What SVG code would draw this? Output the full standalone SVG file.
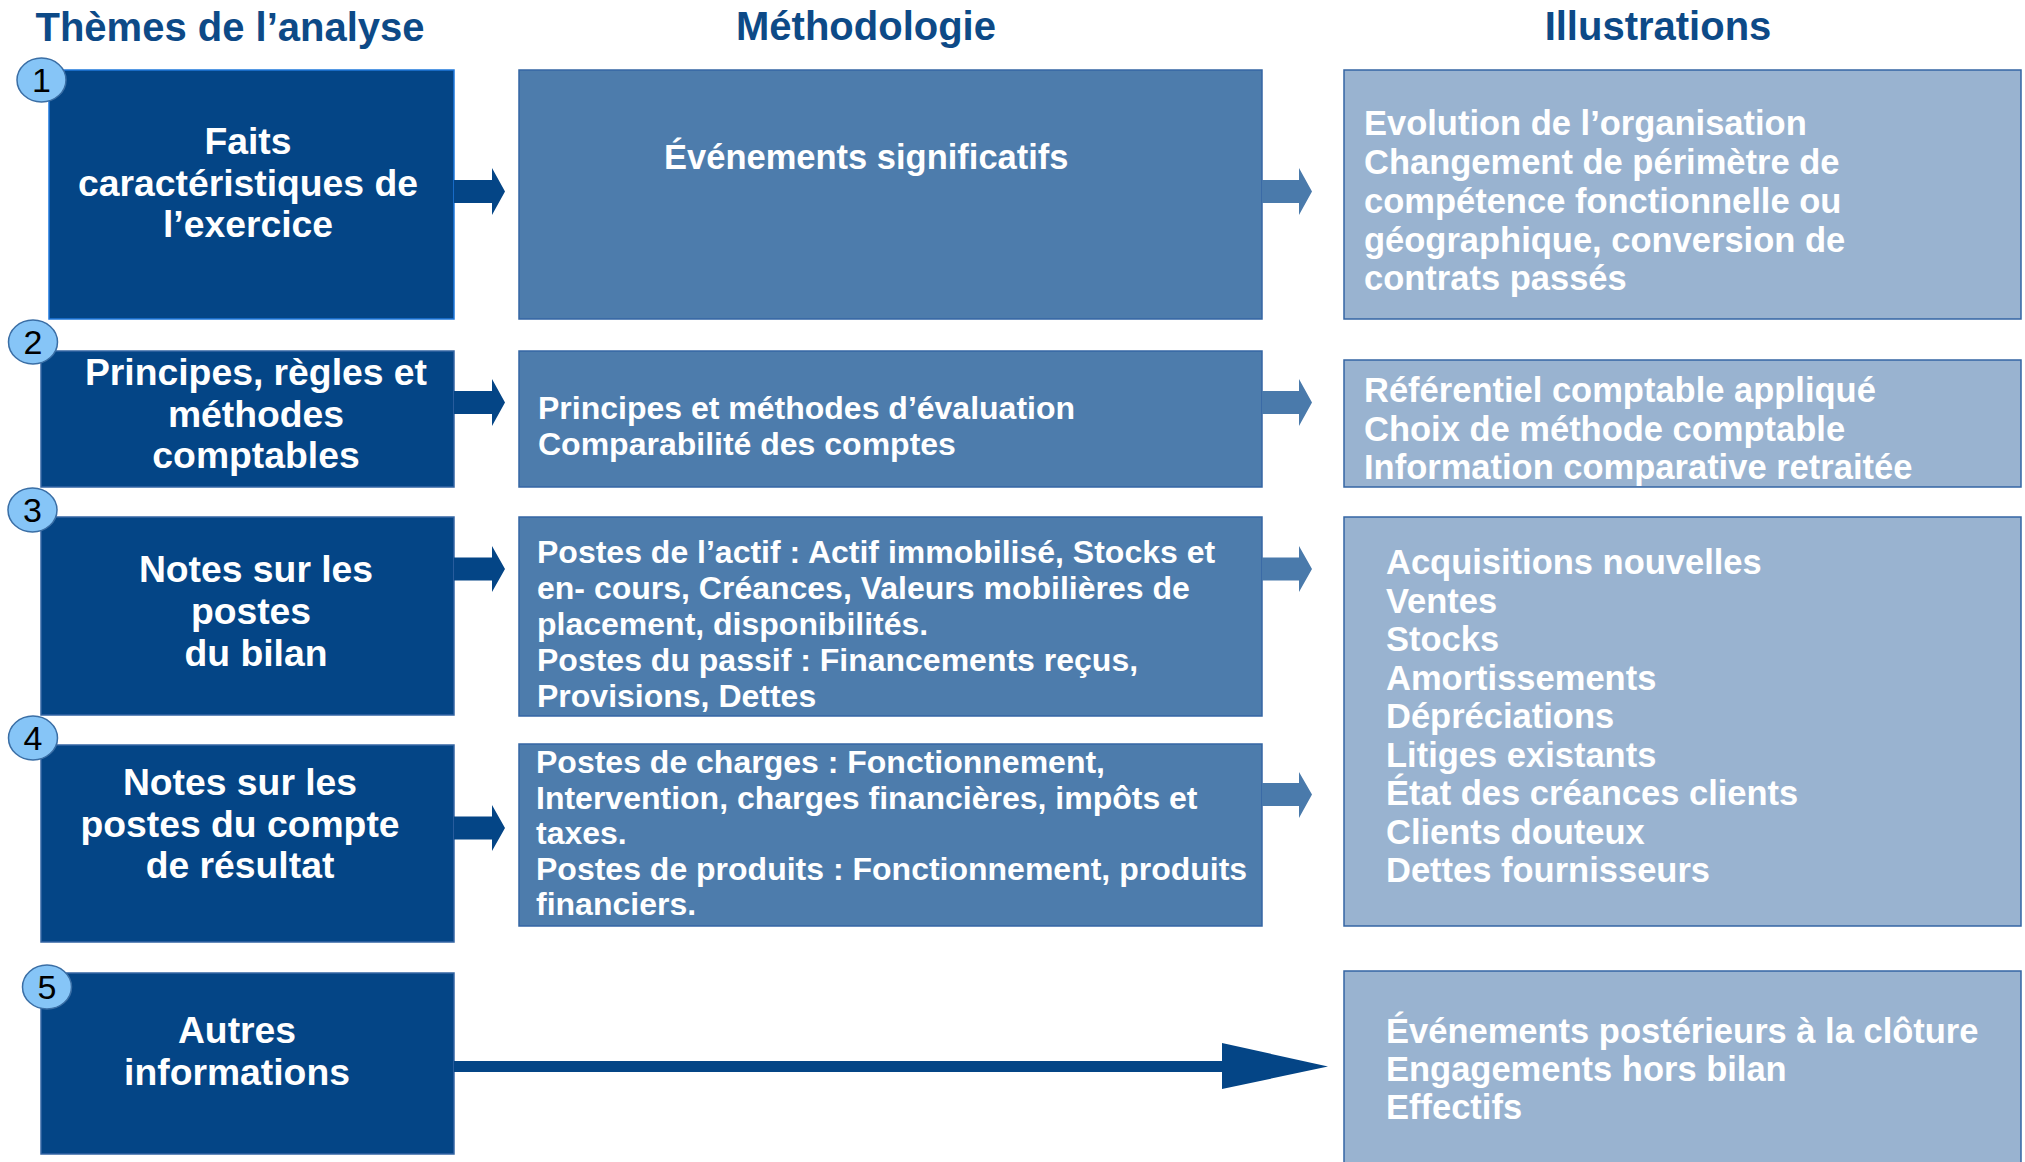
<svg xmlns="http://www.w3.org/2000/svg" width="2025" height="1162" viewBox="0 0 2025 1162">
<defs>
<style>
.hdr{font-family:"Liberation Sans",Arial,sans-serif;font-weight:bold;font-size:40px;fill:#0d4a87;text-anchor:middle}
.lbox{fill:#044586;stroke:#3465a4;stroke-width:1.5}
.mbox{fill:#4d7cac;stroke:#3465a4;stroke-width:1.5}
.rbox{fill:#99b3d0;stroke:#3465a4;stroke-width:1.5}
.ltxt{font-family:"Liberation Sans",Arial,sans-serif;font-weight:bold;font-size:37.3px;fill:#ffffff;text-anchor:middle}
.mtxt{font-family:"Liberation Sans",Arial,sans-serif;font-weight:bold;font-size:32px;fill:#ffffff}
.rtxt{font-family:"Liberation Sans",Arial,sans-serif;font-weight:bold;font-size:34.5px;fill:#ffffff}
.circ{fill:#86c5f7;stroke:#3a6ea5;stroke-width:1.5}
.num{font-family:"Liberation Sans",Arial,sans-serif;font-size:34px;fill:#000000;text-anchor:middle}
.arrL{fill:#044586}
.arrM{fill:#4a7aab}
</style>
</defs>
<rect width="2025" height="1162" fill="#ffffff"/>

<g id="headers">
<text class="hdr" x="230" y="41">Thèmes de l’analyse</text>
<text class="hdr" x="866" y="40">Méthodologie</text>
<text class="hdr" x="1658" y="40">Illustrations</text>
</g>

<g id="theme1">
<rect class="lbox" x="49" y="70" width="405" height="249" style="stroke:#1f78dc"/>
<text class="ltxt" x="248" y="154">Faits</text>
<text class="ltxt" x="248" y="195.5">caractéristiques de</text>
<text class="ltxt" x="248" y="237">l’exercice</text>
</g>
<g id="theme2">
<rect class="lbox" x="41" y="351" width="413" height="136"/>
<text class="ltxt" x="256" y="385">Principes, règles et</text>
<text class="ltxt" x="256" y="427">méthodes</text>
<text class="ltxt" x="256" y="468">comptables</text>
</g>
<g id="theme3">
<rect class="lbox" x="41" y="517" width="413" height="198"/>
<text class="ltxt" x="256" y="582">Notes sur les</text>
<text class="ltxt" x="251" y="624">postes</text>
<text class="ltxt" x="256" y="666">du bilan</text>
</g>
<g id="theme4">
<rect class="lbox" x="41" y="745" width="413" height="197"/>
<text class="ltxt" x="240" y="795">Notes sur les</text>
<text class="ltxt" x="240" y="836.5">postes du compte</text>
<text class="ltxt" x="240" y="878">de résultat</text>
</g>
<g id="theme5">
<rect class="lbox" x="41" y="973" width="413" height="181"/>
<text class="ltxt" x="237" y="1043">Autres</text>
<text class="ltxt" x="237" y="1085">informations</text>
</g>

<g id="badges">
<g id="badge1"><ellipse class="circ" cx="41.5" cy="80" rx="24.5" ry="22"/><text class="num" x="41.5" y="92">1</text></g>
<g id="badge2"><ellipse class="circ" cx="33" cy="342" rx="24.5" ry="22"/><text class="num" x="33" y="354">2</text></g>
<g id="badge3"><ellipse class="circ" cx="32.5" cy="510" rx="24.5" ry="22"/><text class="num" x="32.5" y="522">3</text></g>
<g id="badge4"><ellipse class="circ" cx="33" cy="738" rx="24.5" ry="22"/><text class="num" x="33" y="750">4</text></g>
<g id="badge5"><ellipse class="circ" cx="47" cy="987" rx="24.5" ry="22"/><text class="num" x="47" y="999">5</text></g>
</g>

<g id="method1">
<rect class="mbox" x="519" y="70" width="743" height="249"/>
<text class="rtxt" x="664" y="169">Événements significatifs</text>
</g>
<g id="method2">
<rect class="mbox" x="519" y="351" width="743" height="136"/>
<text class="mtxt" x="538" y="419">Principes et méthodes d’évaluation</text>
<text class="mtxt" x="538" y="455">Comparabilité des comptes</text>
</g>
<g id="method3">
<rect class="mbox" x="519" y="517" width="743" height="199"/>
<text class="mtxt" x="537" y="563">Postes de l’actif : Actif immobilisé, Stocks et</text>
<text class="mtxt" x="537" y="599">en- cours, Créances, Valeurs mobilières de</text>
<text class="mtxt" x="537" y="635">placement, disponibilités.</text>
<text class="mtxt" x="537" y="671">Postes du passif : Financements reçus,</text>
<text class="mtxt" x="537" y="707">Provisions, Dettes</text>
</g>
<g id="method4">
<rect class="mbox" x="519" y="744" width="743" height="182"/>
<text class="mtxt" x="536" y="773">Postes de charges : Fonctionnement,</text>
<text class="mtxt" x="536" y="808.5">Intervention, charges financières, impôts et</text>
<text class="mtxt" x="536" y="844">taxes.</text>
<text class="mtxt" x="536" y="879.5">Postes de produits : Fonctionnement, produits</text>
<text class="mtxt" x="536" y="915">financiers.</text>
</g>

<g id="illus1">
<rect class="rbox" x="1344" y="70" width="677" height="249"/>
<text class="rtxt" x="1364" y="135">Evolution de l’organisation</text>
<text class="rtxt" x="1364" y="174">Changement de périmètre de</text>
<text class="rtxt" x="1364" y="213">compétence fonctionnelle ou</text>
<text class="rtxt" x="1364" y="252">géographique, conversion de</text>
<text class="rtxt" x="1364" y="290">contrats passés</text>
</g>
<g id="illus2">
<rect class="rbox" x="1344" y="360" width="677" height="127"/>
<text class="rtxt" x="1364" y="402">Référentiel comptable appliqué</text>
<text class="rtxt" x="1364" y="440.5">Choix de méthode comptable</text>
<text class="rtxt" x="1364" y="479">Information comparative retraitée</text>
</g>
<g id="illus3">
<rect class="rbox" x="1344" y="517" width="677" height="409"/>
<text class="rtxt" x="1386" y="574">Acquisitions nouvelles</text>
<text class="rtxt" x="1386" y="612.5">Ventes</text>
<text class="rtxt" x="1386" y="651">Stocks</text>
<text class="rtxt" x="1386" y="689.5">Amortissements</text>
<text class="rtxt" x="1386" y="728">Dépréciations</text>
<text class="rtxt" x="1386" y="766.5">Litiges existants</text>
<text class="rtxt" x="1386" y="805">État des créances clients</text>
<text class="rtxt" x="1386" y="843.5">Clients douteux</text>
<text class="rtxt" x="1386" y="882">Dettes fournisseurs</text>
</g>
<g id="illus4">
<rect class="rbox" x="1344" y="971" width="677" height="200"/>
<text class="rtxt" x="1386" y="1043">Événements postérieurs à la clôture</text>
<text class="rtxt" x="1386" y="1081">Engagements hors bilan</text>
<text class="rtxt" x="1386" y="1119">Effectifs</text>
</g>

<g id="connectors">
<polygon class="arrL" points="454,180 492,180 492,168 505,191.5 492,215 492,203 454,203"/>
<polygon class="arrL" points="454,391 492,391 492,379 505,402.5 492,426 492,414 454,414"/>
<polygon class="arrL" points="454,557.5 492,557.5 492,546 505,569 492,592 492,580.5 454,580.5"/>
<polygon class="arrL" points="454,816.5 492,816.5 492,805 505,828 492,851 492,839.5 454,839.5"/>
<polygon class="arrM" points="1262,180 1299,180 1299,168 1312,191.5 1299,215 1299,203 1262,203"/>
<polygon class="arrM" points="1262,391 1299,391 1299,379 1312,402.5 1299,426 1299,414 1262,414"/>
<polygon class="arrM" points="1262,557.5 1299,557.5 1299,546 1312,569 1299,592 1299,580.5 1262,580.5"/>
<polygon class="arrM" points="1262,783 1299,783 1299,772 1312,794.5 1299,818 1299,806 1262,806"/>
<rect class="arrL" x="454" y="1061" width="770" height="11"/>
<polygon class="arrL" points="1222,1043 1328,1066.5 1222,1089"/>
</g>
</svg>
